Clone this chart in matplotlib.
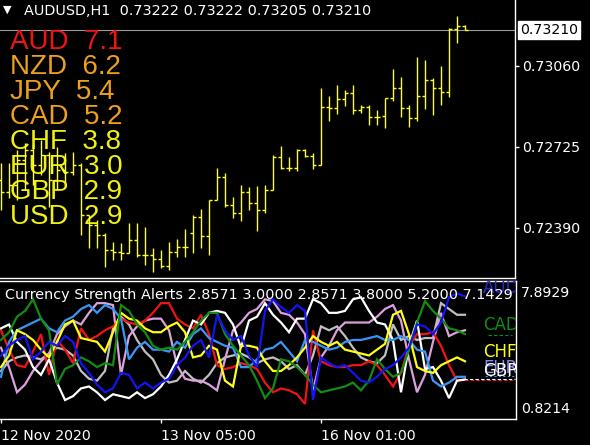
import matplotlib
matplotlib.use("Agg")
import matplotlib.pyplot as plt
import matplotlib.transforms as mtransforms

# -----------------------------
# Data
# -----------------------------
# AUDUSD H1 bars (open, high, low, close)
bar_open = [0.72589, 0.72539, 0.72568, 0.72671, 0.72713, 0.72651, 0.72692, 0.72589, 0.72630, 0.72622,
            0.72651, 0.72444, 0.72402, 0.72361, 0.72299, 0.72291, 0.72287, 0.72340, 0.72278, 0.72278,
            0.72262, 0.72233, 0.72291, 0.72311, 0.72369, 0.72435, 0.72357, 0.72506, 0.72601, 0.72485,
            0.72452, 0.72539, 0.72493, 0.72464, 0.72547, 0.72684, 0.72638, 0.72638, 0.72713, 0.72688,
            0.72651, 0.72890, 0.72886, 0.72924, 0.72948, 0.72878, 0.72890, 0.72849, 0.72853, 0.72928,
            0.72969, 0.72886, 0.72845, 0.72936, 0.73002, 0.72969, 0.72952, 0.73213, 0.73225]
bar_high = [0.72659, 0.72659, 0.72713, 0.72742, 0.72733, 0.72754, 0.72704, 0.72725, 0.72700, 0.72704,
            0.72659, 0.72444, 0.72423, 0.72369, 0.72332, 0.72328, 0.72411, 0.72411, 0.72394, 0.72307,
            0.72299, 0.72332, 0.72344, 0.72386, 0.72444, 0.72469, 0.72506, 0.72638, 0.72617, 0.72518,
            0.72568, 0.72560, 0.72564, 0.72568, 0.72692, 0.72729, 0.72684, 0.72717, 0.72717, 0.72700,
            0.72969, 0.72936, 0.72981, 0.72961, 0.72981, 0.72899, 0.72899, 0.72878, 0.72928, 0.73048,
            0.73015, 0.72899, 0.73097, 0.73085, 0.73010, 0.73060, 0.73217, 0.73267, 0.73230]
bar_low = [0.72464, 0.72514, 0.72506, 0.72547, 0.72568, 0.72609, 0.72477, 0.72547, 0.72580, 0.72609,
           0.72361, 0.72307, 0.72307, 0.72229, 0.72258, 0.72258, 0.72287, 0.72270, 0.72237, 0.72208,
           0.72225, 0.72216, 0.72270, 0.72270, 0.72287, 0.72307, 0.72278, 0.72506, 0.72477, 0.72431,
           0.72419, 0.72464, 0.72378, 0.72452, 0.72547, 0.72634, 0.72626, 0.72626, 0.72684, 0.72634,
           0.72651, 0.72833, 0.72861, 0.72895, 0.72861, 0.72866, 0.72816, 0.72816, 0.72804, 0.72915,
           0.72849, 0.72808, 0.72833, 0.72882, 0.72857, 0.72899, 0.72932, 0.73155, 0.73210]
bar_close = [0.72539, 0.72568, 0.72671, 0.72713, 0.72651, 0.72692, 0.72589, 0.72630, 0.72622, 0.72651,
             0.72444, 0.72402, 0.72361, 0.72299, 0.72291, 0.72287, 0.72340, 0.72278, 0.72278, 0.72262,
             0.72233, 0.72291, 0.72311, 0.72311, 0.72435, 0.72357, 0.72506, 0.72601, 0.72485, 0.72452,
             0.72539, 0.72493, 0.72464, 0.72547, 0.72684, 0.72638, 0.72638, 0.72713, 0.72688, 0.72651,
             0.72890, 0.72886, 0.72924, 0.72948, 0.72878, 0.72890, 0.72849, 0.72849, 0.72928, 0.72969,
             0.72886, 0.72845, 0.72936, 0.73002, 0.72969, 0.72952, 0.73213, 0.73225, 0.73210]

last_price = 0.73210
price_ticks = [0.73060, 0.72725, 0.72390]
title_text = "AUDUSD,H1  0.73222 0.73222 0.73205 0.73210"

# strength table (top-left)
currencies = ["AUD", "NZD", "JPY", "CAD", "CHF", "EUR", "GBP", "USD"]
strength = [7.1, 6.2, 5.4, 5.2, 3.8, 3.0, 2.9, 2.9]
strength_colors = ["#f01414", "#eda01e", "#eda01e", "#eda01e",
                   "#f0f014", "#f0f014", "#f0f014", "#f0f014"]

# currency strength indicator lines
usd = [5.4, 4.4, 3.6, 3.5, 4.3, 5.2, 3.1, 4.9, 4.4, 3.7, 5.5, 4.9, 5.1, 5.4, 5.6, 6.0, 5.8, 5.7, 5.9, 6.3,
       6.8, 6.8, 6.0, 5.7, 5.5, 6.2, 5.2, 3.6, 3.4, 3.5, 3.7, 3.6, 3.4, 2.7, 2.2, 2.4, 2.3, 2.1, 1.6, 5.4,
       3.8, 3.6, 3.5, 3.5, 3.6, 3.6, 3.8, 3.6, 3.1, 2.5, 3.2, 4.6, 5.2, 5.2, 5.3, 4.6, 3.6, 2.8, 2.8571]
cad = [4.9, 5.3, 6.1, 6.4, 7.0, 6.0, 5.4, 2.6, 3.4, 3.6, 4.0, 3.8, 3.5, 3.7, 3.6, 6.7, 6.4, 5.7, 5.3, 4.6,
       4.4, 4.5, 4.4, 4.8, 5.3, 5.9, 6.3, 6.3, 5.2, 4.6, 4.1, 3.6, 2.8, 1.9, 2.4, 3.9, 3.8, 3.5, 3.1, 2.6,
       2.2, 2.3, 2.4, 2.5, 2.7, 2.3, 2.8, 3.9, 3.4, 3.0, 3.2, 4.4, 5.8, 6.9, 6.4, 6.0, 5.5, 5.4, 5.2]
aud = [4.1, 4.6, 4.9, 5.1, 3.9, 4.3, 4.8, 4.6, 5.1, 4.8, 3.7, 3.2, 2.6, 2.2, 2.4, 3.2, 3.1, 2.4, 2.7, 2.4,
       2.7, 2.9, 3.6, 4.0, 4.6, 4.9, 4.0, 6.2, 5.4, 4.9, 5.1, 4.1, 3.5, 6.4, 7.0, 6.6, 6.3, 6.7, 6.4, 1.8,
       4.0, 3.7, 3.5, 3.6, 3.2, 2.8, 2.7, 3.0, 3.4, 3.6, 4.0, 4.5, 5.7, 5.6, 5.2, 5.8, 7.1, 7.3, 7.1429]
eur = [3.0, 4.8, 5.4, 5.6, 5.8, 6.0, 5.5, 5.3, 5.9, 6.1, 6.5, 6.7, 6.3, 6.7, 6.5, 6.0, 3.9, 4.5, 4.8, 4.4,
       4.4, 4.3, 4.8, 4.5, 5.2, 5.5, 5.0, 4.8, 4.6, 4.5, 3.5, 3.5, 3.9, 4.4, 4.5, 4.8, 4.3, 3.8, 4.9, 4.8,
       4.6, 4.4, 4.5, 4.8, 4.9, 4.9, 5.0, 5.1, 4.9, 4.9, 5.1, 4.9, 4.4, 4.3, 2.8, 2.5, 2.7, 3.0, 3.0]
chf = [3.5, 4.1, 5.4, 5.2, 4.9, 4.4, 4.0, 4.8, 5.7, 5.9, 5.0, 4.9, 4.8, 4.3, 5.3, 6.3, 6.0, 5.9, 5.5, 5.3,
       5.3, 5.6, 5.8, 5.3, 4.0, 4.1, 4.6, 4.4, 2.8, 2.5, 4.6, 4.6, 4.5, 3.8, 3.3, 3.3, 3.6, 4.0, 4.5, 5.1,
       4.8, 4.6, 4.8, 4.4, 4.3, 4.2, 4.1, 4.4, 4.7, 6.2, 6.4, 5.2, 3.5, 3.3, 3.2, 3.6, 3.8, 4.0, 3.8]
gbp = [5.5, 5.7, 4.8, 4.4, 3.5, 3.1, 3.9, 2.7, 1.8, 2.0, 2.4, 2.5, 2.2, 1.8, 2.1, 2.0, 1.9, 2.2, 1.9, 2.1,
       2.5, 3.1, 3.9, 4.9, 5.9, 5.7, 6.3, 6.4, 6.3, 5.7, 4.5, 5.9, 6.1, 6.8, 6.2, 5.8, 5.3, 6.0, 6.0, 7.0,
       6.8, 6.3, 6.3, 6.4, 7.0, 7.1, 6.4, 5.8, 5.7, 4.9, 2.2, 4.6, 5.9, 3.4, 3.5, 2.8, 1.9, 2.8, 2.8571]
jpy = [4.5, 3.5, 2.2, 2.6, 3.3, 3.8, 4.2, 5.2, 5.6, 5.9, 5.7, 6.3, 6.8, 6.8, 6.7, 3.1, 5.1, 5.6, 5.9, 6.0,
       6.0, 5.4, 3.6, 2.9, 2.8, 2.8, 2.6, 2.3, 3.9, 5.4, 5.8, 6.3, 6.5, 7.0, 6.9, 6.3, 6.2, 5.8, 5.2, 2.3,
       4.0, 4.6, 5.4, 5.8, 5.8, 5.8, 5.8, 6.1, 6.5, 6.7, 5.9, 3.9, 2.2, 3.1, 4.8, 6.3, 5.1, 5.3, 5.4]
nzd = [3.3, 3.8, 4.0, 4.1, 4.0, 3.9, 4.2, 4.5, 4.4, 4.1, 3.3, 2.9, 2.8, 3.3, 5.5, 6.1, 5.7, 4.9, 4.3, 3.9,
       3.1, 2.7, 2.8, 3.3, 2.9, 2.7, 3.1, 3.7, 4.0, 4.1, 4.2, 4.0, 3.7, 3.9, 4.0, 3.8, 3.4, 3.6, 3.1, 4.1,
       5.6, 5.4, 5.6, 5.1, 4.5, 4.0, 3.8, 3.7, 4.1, 5.7, 4.9, 5.1, 4.9, 5.0, 5.0, 6.8, 6.5, 6.2, 6.2]

header_values = [2.8571, 3.0000, 2.8571, 3.8000, 5.2000, 7.1429]
ind_max, ind_min = 7.8929, 0.8214

xtick_bars = [0, 20, 40]
xtick_labels = ["12 Nov 2020", "13 Nov 05:00", "16 Nov 01:00"]

# -----------------------------
# Figure setup
# -----------------------------
W, H = 590, 445
BG = "black"


def px_rect(x0, y0, x1, y1):
    return [x0 / W, 1 - y1 / H, (x1 - x0) / W, (y1 - y0) / H]


fig = plt.figure(figsize=(W / 100, H / 100), dpi=100, facecolor=BG)

# main price panel
ax = fig.add_axes(px_rect(0, 0, 515, 278), facecolor=BG)
ax.set_xlim(-0.125, 64.25)
ax.set_ylim(0.72183, 0.73333)
for side in ["top", "left"]:
    ax.spines[side].set_visible(False)
for side in ["right", "bottom"]:
    ax.spines[side].set_color("white")
    ax.spines[side].set_linewidth(1)
ax.set_xticks([])
ax.yaxis.tick_right()
ax.set_yticks(price_ticks)
ax.set_yticklabels([f"{p:.5f}" for p in price_ticks])
ax.tick_params(axis="y", colors="white", labelcolor="white", length=3, width=1,
               pad=2, labelsize=10.2)

# bid line
ax.axhline(last_price, color="#9c9c9c", lw=0.8, zorder=1)
trans = mtransforms.blended_transform_factory(ax.transAxes, ax.transData)
ax.text(1.01, last_price, f"{last_price:.5f}", transform=trans, ha="left", va="center",
        fontsize=10.2, color="black", clip_on=False,
        bbox=dict(facecolor="white", edgecolor="white", boxstyle="square,pad=0.15"))

# OHLC bars
xs = list(range(len(bar_open)))
bar_col = "#ffff1e"
ax.vlines(xs, bar_low, bar_high, color=bar_col, lw=1.0, zorder=3)
ax.hlines(bar_open, [x - 0.38 for x in xs], xs, color=bar_col, lw=1.0, zorder=3)
ax.hlines(bar_close, xs, [x + 0.38 for x in xs], color=bar_col, lw=1.0, zorder=3)

# strength table
for k, (cur, val, col) in enumerate(zip(currencies, strength, strength_colors)):
    ax.text(10 / 515, 1 - (42 + 25 * k) / 278, f"{cur}  {val:.1f}", transform=ax.transAxes,
            ha="left", va="center", fontsize=20, color=col, family=["Liberation Sans"], zorder=2)

# title
fig.text(3 / W, 1 - 10 / H, "\u25bc", color="white", fontsize=8, ha="left", va="center")
fig.text(24 / W, 1 - 11 / H, title_text, color="white", fontsize=10.4, ha="left", va="center")

# -----------------------------
# Indicator panel
# -----------------------------
ax2 = fig.add_axes(px_rect(0, 281, 516, 419), facecolor=BG)
ax2.set_xlim(-0.125, 64.375)
ax2.set_ylim(ind_min, ind_max + 0.05)
ax2.spines["left"].set_visible(False)
for side in ["top", "right", "bottom"]:
    ax2.spines[side].set_color("white")
    ax2.spines[side].set_linewidth(1)
ax2.set_yticks([])
ax2.set_xticks(xtick_bars)
ax2.set_xticklabels(xtick_labels, ha="left")
ax2.tick_params(axis="x", colors="white", labelcolor="white", length=3, width=1,
                pad=4, labelsize=10.2)

lines = [
    (nzd, "#c0c0c0"),
    (jpy, "#dda0dd"),
    (usd, "#f01414"),
    (gbp, "#ffffff"),
    (eur, "#3a96f5"),
    (chf, "#ffff14"),
    (cad, "#128c12"),
    (aud, "#1414f0"),
]
xi = list(range(len(usd)))
for series, col in lines:
    ax2.plot(xi, series, color=col, lw=1.6, zorder=2, solid_joinstyle="miter")

# level dashes after the last bar
ax2.hlines(usd[-1] - 0.02, 58, 64.3, colors="#f01414", linestyles=(0, (3, 2)), lw=0.8)
ax2.hlines(gbp[-1] + 0.02, 58, 64.3, colors="#ffffff", linestyles=(1, (3, 2)), lw=0.8)
ax2.hlines(eur[-1] + 0.05, 60.5, 64.3, colors="#3a96f5", linestyles=(0, (2, 2)), lw=0.8)
ax2.hlines(cad[-1] - 0.05, 60.9, 63.9, colors="#128c12", linestyles=(0, (3, 2)), lw=0.8)

# currency labels on the right edge (they overlap in the original too)
side_labels = [("AUD", aud[-1], "#2a2ad0"), ("CAD", cad[-1], "#128c12"),
               ("CHF", chf[-1], "#ffff14"), ("EUR", eur[-1], "#8a8af0"),
               ("GBP", gbp[-1], "#ffffff")]
for name, val, col in side_labels:
    ax2.text(60.25, val, name, color=col, fontsize=12, ha="left", va="bottom",
             clip_on=True, zorder=4)

header = "Currency Strength Alerts " + " ".join(f"{v:.4f}" for v in header_values)
ax2.text(5 / 516, 1 - 14 / 138, header, transform=ax2.transAxes, color="white",
         fontsize=10.4, ha="left", va="center", zorder=5, clip_on=True)

ax2.text(1.01, 1 - 12 / 138, f"{ind_max:.4f}", transform=ax2.transAxes, color="white",
         fontsize=10.2, ha="left", va="center", clip_on=False)
ax2.text(1.01, 10 / 138, f"{ind_min:.4f}", transform=ax2.transAxes, color="white",
         fontsize=10.2, ha="left", va="center", clip_on=False)

fig.savefig("out.png", dpi=100, facecolor=BG)
